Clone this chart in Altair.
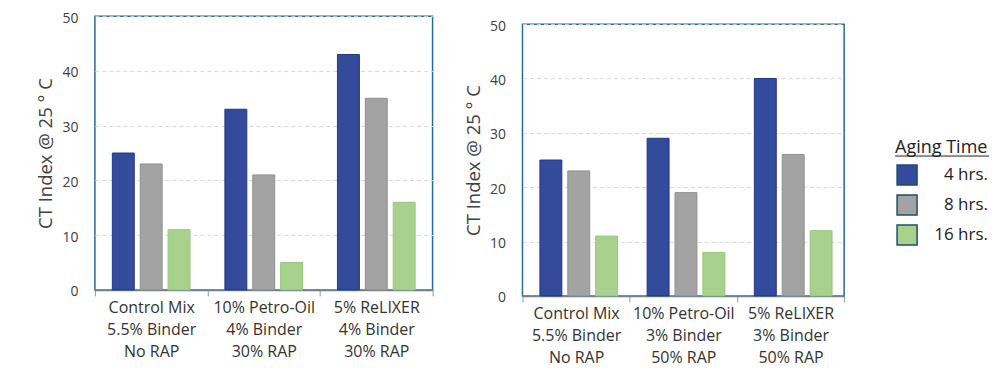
import altair as alt
import pandas as pd

aging = ["4 hrs.", "8 hrs.", "16 hrs."]
colors = ["#344a9a", "#a3a3a3", "#a9d18e"]
strokes = ["#22348a", "#8f8f8f", "#98c57c"]

left_cats = ["Control Mix|5.5% Binder|No RAP", "10% Petro-Oil|4% Binder|30% RAP", "5% ReLIXER|4% Binder|30% RAP"]
left_4h = [25, 33, 43]
left_8h = [23, 21, 35]
left_16h = [11, 5, 16]

right_cats = ["Control Mix|5.5% Binder|No RAP", "10% Petro-Oil|3% Binder|50% RAP", "5% ReLIXER|3% Binder|50% RAP"]
right_4h = [25, 29, 40]
right_8h = [23, 19, 26]
right_16h = [11, 8, 12]

y_ticks = [0, 10, 20, 30, 40, 50]
y_title = "CT Index @ 25 ° C"
legend_title = "Aging Time"

FONT = "Open Sans"


def make_df(cats, a, b, c):
    rows = []
    for i, cat in enumerate(cats):
        for ag, vals in zip(aging, [a, b, c]):
            rows.append({"Mix": cat, "Aging": ag, "CT": vals[i]})
    return pd.DataFrame(rows)


def panel(df, cats, width, height):
    return alt.Chart(df).mark_bar(strokeWidth=1).encode(
        x=alt.X("Mix:N", sort=cats,
                scale=alt.Scale(paddingInner=0, paddingOuter=0),
                axis=alt.Axis(title=None, labelAngle=0, labelExpr="split(datum.label, '|')",
                              labelFont=FONT, labelFontSize=16, labelColor="#333333",
                              labelLineHeight=22, labelPadding=4, labelBaseline="top",
                              tickBand="extent", ticks=True, tickSize=6, tickColor="#8a9aa5",
                              domainColor="#6b8393", domainWidth=1.5, grid=False)),
        xOffset=alt.XOffset("Aging:N", sort=aging,
                            scale=alt.Scale(paddingInner=0.214, paddingOuter=0.625)),
        y=alt.Y("CT:Q", scale=alt.Scale(domain=[0, 50]),
                axis=alt.Axis(title=y_title, values=y_ticks, ticks=False, domain=False,
                              labelFont=FONT, labelFontSize=14, labelColor="#404040",
                              labelPadding=17, labelOffset=2, titleFont=FONT, titleFontSize=18.5,
                              titleFontWeight="normal", titleColor="#404040", titlePadding=6,
                              grid=True, gridColor="#d9d9d9", gridDash=[4, 3], gridWidth=1)),
        color=alt.Color("Aging:N", sort=aging, scale=alt.Scale(domain=aging, range=colors), legend=None),
        stroke=alt.Stroke("Aging:N", sort=aging, scale=alt.Scale(domain=aging, range=strokes), legend=None),
    ).properties(width=width, height=height,
                 view=alt.ViewBackground(stroke="#2a6a96", strokeWidth=1.5))


left = panel(make_df(left_cats, left_4h, left_8h, left_16h), left_cats, 338, 274)
right_core = panel(make_df(right_cats, right_4h, right_8h, right_16h), right_cats, 322, 272)
spacer = alt.Chart(pd.DataFrame({"a": [0]})).mark_point(opacity=0, size=1).encode(
    x=alt.value(0), y=alt.value(0)).properties(
    width=322, height=1, view=alt.ViewBackground(stroke="transparent"))
right = alt.vconcat(spacer, right_core, spacing=0)

leg_df = pd.DataFrame({"Aging": aging})
leg_base = alt.Chart(leg_df).encode(
    y=alt.Y("Aging:N", sort=aging, axis=None,
            scale=alt.Scale(type="point", range=[159, 219], padding=0)))
leg_sq = leg_base.mark_square(size=400, strokeWidth=1.5, stroke="#1f4e64", opacity=1).encode(
    x=alt.value(16),
    color=alt.Color("Aging:N", sort=aging, scale=alt.Scale(domain=aging, range=colors), legend=None))
leg_txt = leg_base.mark_text(align="right", baseline="middle", font=FONT, fontSize=17,
                             color="#222222").encode(x=alt.value(97), text="Aging:N")
leg_title = alt.Chart(pd.DataFrame({"t": [legend_title]})).mark_text(
    align="left", baseline="alphabetic", font=FONT, fontSize=18, color="#222222").encode(
    x=alt.value(4), y=alt.value(137), text="t:N")
leg_line = alt.Chart(pd.DataFrame({"t": [legend_title]})).mark_rule(color="#222222", strokeWidth=1).encode(
    x=alt.value(4), x2=alt.value(98), y=alt.value(140))
legend = alt.layer(leg_title, leg_line, leg_sq, leg_txt).properties(
    width=100, height=274, view=alt.ViewBackground(stroke="transparent"))

chart = alt.hconcat(left, right, spacing=29)
chart = alt.hconcat(chart, legend, spacing=44).properties(
    padding={"left": 28, "top": 2, "right": 0, "bottom": 0})

chart.save("out.html", embed_options={"renderer": "svg", "actions": False})
